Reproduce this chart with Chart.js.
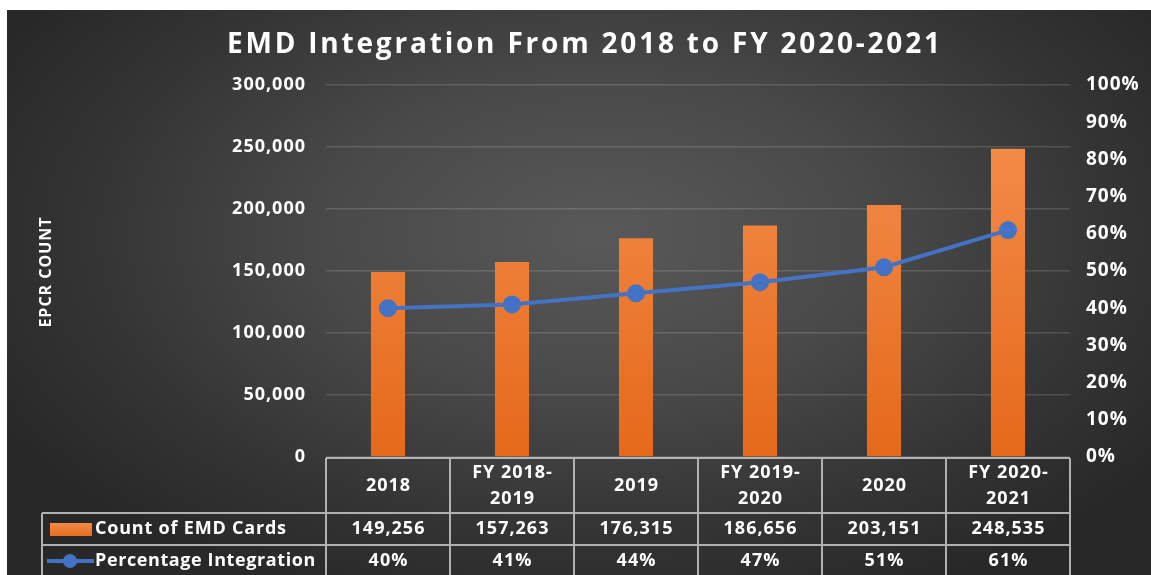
<!DOCTYPE html>
<html>
<head>
<meta charset="utf-8">
<script src="https://cdn.jsdelivr.net/npm/chart.js@4.4.1/dist/chart.umd.min.js"></script>
<style>
  html, body { margin: 0; padding: 0; background: #ffffff; }
  #wrap { position: relative; width: 1151px; height: 575px; overflow: hidden; }
  #bg { position: absolute; left: 7px; top: 10px; width: 1144px; height: 565px;
        background: radial-gradient(ellipse 60% 70% at 52% 40%, #595959 0%, #494949 40%, #343434 75%, #282828 100%); }
  canvas { position: absolute; left: 0; top: 0; }
</style>
</head>
<body>
<div id="wrap"><div id="bg"></div><canvas id="c" width="1151" height="575"></canvas></div>
<script>
const titleText = 'EMD Integration From 2018 to FY 2020-2021';
const yAxisTitle = 'EPCR COUNT';
const categories = [['2018'], ['FY 2018-', '2019'], ['2019'], ['FY 2019-', '2020'], ['2020'], ['FY 2020-', '2021']];
const countLabel = 'Count of EMD Cards';
const pctLabel = 'Percentage Integration';
const countValues = [149256, 157263, 176315, 186656, 203151, 248535];
const pctValues = [40, 41, 44, 47, 51, 61];
const leftTicks = { min: 0, max: 300000, step: 50000 };
const rightTicks = { min: 0, max: 100, step: 10 };

const ORANGE = '#ED7D31';
const BLUE = '#4472C4';
const FONT = '"Open Sans", sans-serif';
const SPACING = '1px';

const fmt = v => Number(v).toLocaleString('en-US');

const spacingPlugin = {
  id: 'spacing',
  beforeDraw(chart) { chart.ctx.letterSpacing = SPACING; }
};

const decor = {
  id: 'decor',
  afterDraw(chart) {
    const ctx = chart.ctx;
    const area = chart.chartArea;
    const x = chart.scales.x;
    ctx.save();
    // Title
    ctx.fillStyle = '#ffffff';
    ctx.font = 'bold 28px ' + FONT;
    ctx.letterSpacing = '0px';
    const w = ctx.measureText(titleText).width;
    const sp = (713 - w) / (titleText.length - 1);
    ctx.letterSpacing = sp + 'px';
    ctx.textAlign = 'left';
    ctx.textBaseline = 'alphabetic';
    ctx.fillText(titleText, 227, 53);
    ctx.letterSpacing = SPACING;

    // Y axis title
    ctx.save();
    ctx.translate(46, 272);
    ctx.rotate(-Math.PI / 2);
    ctx.font = 'bold 16px ' + FONT;
    ctx.textAlign = 'center';
    ctx.textBaseline = 'middle';
    ctx.fillText(yAxisTitle, 0, 0);
    ctx.restore();

    // Data table
    const n = categories.length;
    const bounds = [];
    for (let i = 0; i <= n; i++) {
      if (i === 0) bounds.push(area.left);
      else if (i === n) bounds.push(area.right);
      else bounds.push((x.getPixelForValue(i - 1) + x.getPixelForValue(i)) / 2);
    }
    const top = area.bottom + 1;
    const r1 = 513, r2 = 545, r3 = 578;
    const legendLeft = 42;
    ctx.strokeStyle = 'rgba(200,200,200,0.85)';
    ctx.lineWidth = 2;
    ctx.beginPath();
    ctx.moveTo(area.left, top); ctx.lineTo(area.right, top);
    ctx.moveTo(legendLeft, r1); ctx.lineTo(area.right, r1);
    ctx.moveTo(legendLeft, r2); ctx.lineTo(area.right, r2);
    bounds.forEach(b => { ctx.moveTo(b, top); ctx.lineTo(b, r3); });
    ctx.moveTo(legendLeft, r1); ctx.lineTo(legendLeft, r3);
    ctx.stroke();

    ctx.fillStyle = '#ffffff';
    ctx.font = 'bold 18px ' + FONT;
    ctx.textAlign = 'center';
    ctx.textBaseline = 'middle';
    for (let i = 0; i < n; i++) {
      const cx = x.getPixelForValue(i) + 0.5;
      const lines = categories[i];
      const mid = (top + r1) / 2;
      const lh = 26;
      lines.forEach((t, k) => {
        ctx.fillText(t, cx, mid + (k - (lines.length - 1) / 2) * lh);
      });
      ctx.fillText(fmt(countValues[i]), cx, (r1 + r2) / 2);
      ctx.fillText(pctValues[i] + '%', cx, (r2 + r3) / 2 - 1);
    }
    // legend keys
    ctx.textAlign = 'left';
    const g = ctx.createLinearGradient(0, 523, 0, 537);
    g.addColorStop(0, '#F28A46'); g.addColorStop(1, '#E46C1C');
    ctx.fillStyle = g;
    ctx.fillRect(50, 523, 42, 13);
    ctx.fillStyle = '#ffffff';
    ctx.letterSpacing = '0.8px';
    ctx.fillText(countLabel, 95, (r1 + r2) / 2);
    ctx.strokeStyle = BLUE;
    ctx.lineWidth = 4;
    ctx.beginPath(); ctx.moveTo(47, 561); ctx.lineTo(94, 561); ctx.stroke();
    ctx.fillStyle = BLUE;
    ctx.beginPath(); ctx.arc(70, 561, 7, 0, Math.PI * 2); ctx.fill();
    ctx.fillStyle = '#ffffff';
    ctx.letterSpacing = '0.6px';
    ctx.fillText(pctLabel, 95, (r2 + r3) / 2 - 1);
    ctx.restore();
  }
};

new Chart(document.getElementById('c'), {
  data: {
    labels: categories.map(c => c.join(' ')),
    datasets: [
      {
        type: 'line', label: pctLabel, data: pctValues, yAxisID: 'y2', order: 0,
        borderColor: BLUE, borderWidth: 4, pointRadius: 7, pointHoverRadius: 7,
        pointBackgroundColor: BLUE, pointBorderColor: BLUE, tension: 0
      },
      {
        type: 'bar', label: countLabel, data: countValues, yAxisID: 'y', order: 1,
        categoryPercentage: 1, barPercentage: 0.275,
        backgroundColor: (c) => {
          const a = c.chart.chartArea;
          if (!a) return ORANGE;
          const g = c.chart.ctx.createLinearGradient(0, a.top + 60, 0, a.bottom);
          g.addColorStop(0, '#F28B48');
          g.addColorStop(1, '#E5691A');
          return g;
        }
      }
    ]
  },
  options: {
    responsive: false,
    animation: false,
    layout: { padding: { left: 7, right: 0, top: 85, bottom: 118 } },
    plugins: { legend: { display: false }, title: { display: false }, tooltip: { enabled: false } },
    scales: {
      x: { display: false, offset: true },
      y: {
        position: 'left', min: leftTicks.min, max: leftTicks.max,
        afterFit: s => { s.width = 319; },
        ticks: { stepSize: leftTicks.step, color: '#ffffff', padding: 20,
                 font: { family: FONT, size: 18, weight: 'bold' }, callback: v => fmt(v) },
        grid: { color: 'rgba(255,255,255,0.14)', lineWidth: 1.5, drawTicks: false },
        border: { display: false }
      },
      y2: {
        position: 'right', min: rightTicks.min, max: rightTicks.max,
        afterFit: s => { s.width = 81; },
        ticks: { stepSize: rightTicks.step, color: '#ffffff', padding: 16,
                 font: { family: FONT, size: 19, weight: 'bold' }, callback: v => v + '%' },
        grid: { display: false, drawTicks: false },
        border: { display: false }
      }
    }
  },
  plugins: [spacingPlugin, decor]
});
</script>
</body>
</html>
